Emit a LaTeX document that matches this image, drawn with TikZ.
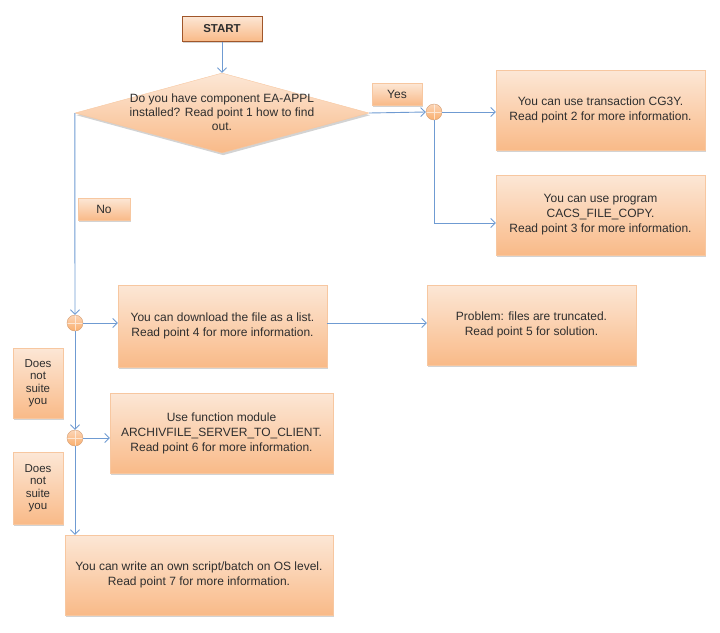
\documentclass[tikz,border=0pt]{standalone}
\usepackage{fontspec}
\setmainfont{Liberation Sans}
\usetikzlibrary{shapes.geometric,shadows,arrows.meta,calc}
\definecolor{boxtop}{HTML}{FCE7D6}
\definecolor{boxbot}{HTML}{F9BA88}
\definecolor{boxline}{HTML}{F7C7A0}
\definecolor{startline}{HTML}{A0562A}
\definecolor{conn}{HTML}{6F9BD2}
\definecolor{txt}{HTML}{2E2E2E}
\tikzset{
  box/.style={rectangle, top color=boxtop, bottom color=boxbot, draw=boxline, line width=0.4pt,
    drop shadow={opacity=0.35, shadow xshift=1.2pt, shadow yshift=-2.2pt},
    align=center, text=txt, inner sep=2pt,
    font=\fontsize{12}{15}\selectfont},
  startbox/.style={box, draw=startline, line width=1pt, font=\fontsize{11.5}{13}\selectfont\bfseries},
  decision/.style={diamond, top color=boxtop, bottom color=boxbot, draw=boxline, line width=0.4pt,
    drop shadow={opacity=0.35, shadow xshift=1.2pt, shadow yshift=-2.2pt}, inner sep=0pt},
  lbl/.style={text=txt, align=center, font=\fontsize{12}{14}\selectfont},
  smallbox/.style={box, inner sep=1pt, font=\fontsize{11.5}{12.5}\selectfont},
  junction/.style={circle, minimum size=16pt, inner sep=0pt, top color=boxtop!60!boxbot, bottom color=boxbot!80!orange,
    draw=boxbot!85!black, line width=0.4pt,
    path picture={\draw[white, opacity=0.6, line width=0.8pt]
      (path picture bounding box.north) -- (path picture bounding box.south)
      (path picture bounding box.west) -- (path picture bounding box.east);}},
  conn/.style={draw=conn, line width=0.9pt},
  arr/.style={conn, -{Straight Barb[length=4.5pt,width=9pt]}},
}
\begin{document}
\begin{tikzpicture}[x=1pt,y=-1pt]
\useasboundingbox (0,0) rectangle (720,632);
% nodes
\node[startbox, minimum width=80pt, minimum height=25pt] (start) at (222,28.5) {START};
\node[decision, minimum width=294pt, minimum height=80pt] (dec) at (222,113) {};
\node[lbl] (dectext) at (222,112) {Do you have component EA-APPL\\installed? Read point 1 how to find\\out.};
\node[box, minimum width=50pt, minimum height=22pt] (yes) at (397,94) {Yes};
\node[junction] (j1) at (434,112) {};
\node[box, minimum width=209pt, minimum height=80pt] (b1) at (600.5,110) {You can use transaction CG3Y.\\Read point 2 for more information.};
\node[box, minimum width=209pt, minimum height=80pt] (b2) at (600.5,215) {You can use program\\CACS\_FILE\_COPY.\\Read point 3 for more information.};
\node[box, minimum width=52pt, minimum height=22pt] (no) at (104,209) {No};
\node[junction] (j2) at (75,323) {};
\node[box, minimum width=209pt, minimum height=82pt] (b4) at (222.5,326) {You can download the file as a list.\\Read point 4 for more information.};
\node[box, minimum width=209pt, minimum height=80pt] (b5) at (531.5,325) {Problem: files are truncated.\\Read point 5 for solution.};
\node[smallbox, minimum width=50pt, minimum height=70pt] (dns1) at (38,383) {Does\\not\\suite\\you};
\node[junction] (j3) at (75,438) {};
\node[box, minimum width=223pt, minimum height=80pt] (b6) at (221.5,433) {Use function module\\ARCHIVFILE\_SERVER\_TO\_CLIENT.\\Read point 6 for more information.};
\node[smallbox, minimum width=50pt, minimum height=72pt] (dns2) at (38,488) {Does\\not\\suite\\you};
\node[box, minimum width=268pt, minimum height=80pt] (b7) at (199,575) {You can write an own script/batch on OS level.\\Read point 7 for more information.};
% connectors
\draw[arr] (start.south) -- (dec.north);
\draw[arr] (dec.east) -- (j1.west);
\draw[arr] (j1.east) -- (j1.east -| b1.west);
\draw[arr] (j1.south) |- ([yshift=-8pt]b2.west);
\draw[arr] (dec.west) -- (j2.north);
\draw[arr] (j2.east) -- (j2.east -| b4.west);
\draw[arr] (j2.east -| b4.east) -- (j2.east -| b5.west);
\draw[arr] (j2.south) -- (j3.north);
\draw[arr] (j3.east) -- (j3.east -| b6.west);
\draw[arr] (j3.south) -- (j3.south |- b7.north);
\end{tikzpicture}
\end{document}
